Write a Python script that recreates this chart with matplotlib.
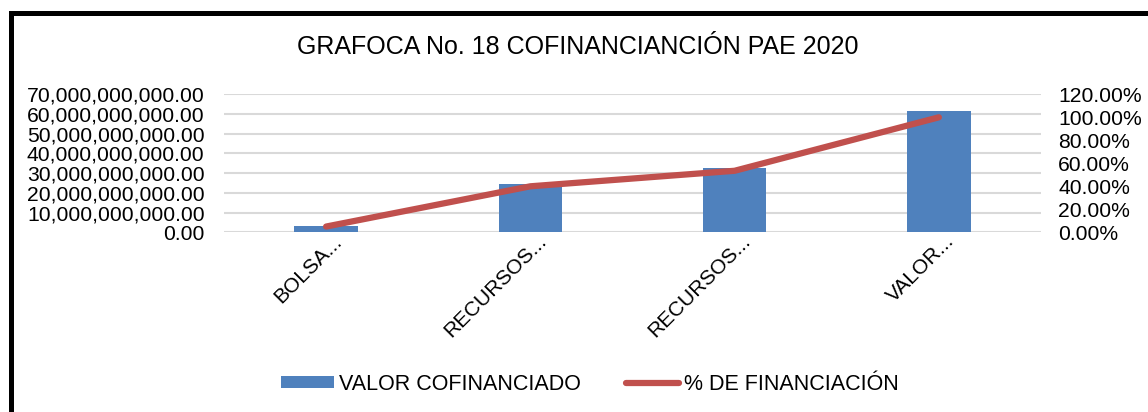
import matplotlib
matplotlib.use("Agg")
import matplotlib.pyplot as plt
from matplotlib.patches import Rectangle, Patch
from matplotlib.lines import Line2D
from matplotlib.ticker import FuncFormatter, MultipleLocator
from matplotlib.transforms import ScaledTranslation

plt.rcParams['font.family'] = ['Liberation Sans', 'DejaVu Sans']

categories = ["BOLSA...", "RECURSOS...", "RECURSOS...", "VALOR..."]
valor_cofinanciado = [3.0e9, 24.4e9, 32.7e9, 61.4e9]
pct_financiacion = [5.0, 40.0, 53.5, 100.0]

title = "GRAFOCA No. 18 COFINANCIANCIÓN PAE 2020"
bar_label = "VALOR COFINANCIADO"
line_label = "% DE FINANCIACIÓN"

bar_color = "#4F81BD"
line_color = "#C0504D"

W, H = 1148, 412
fig = plt.figure(figsize=(W / 100, H / 100), dpi=100)
ax = fig.add_axes([224/W, 1 - 232.3/H, (1041-224)/W, (232.3-94.3)/H])

x = list(range(len(categories)))
ax.bar(x, valor_cofinanciado, width=0.31, color=bar_color, zorder=3)
ax.set_xlim(-0.5, len(categories) - 0.5)
ax.set_ylim(0, 70e9)
ax.yaxis.set_major_locator(MultipleLocator(10e9))
ax.yaxis.set_major_formatter(FuncFormatter(lambda v, p: f"{v:,.2f}"))
ax.grid(axis='y', color='#D9D9D9', linewidth=1.5, zorder=0)
ax.set_axisbelow(True)
for s in ax.spines.values():
    s.set_visible(False)
ax.tick_params(axis='y', length=0, labelsize=15.2, pad=14)
ax.set_xticks(x)
ax.set_xticklabels(categories, rotation=45, ha='right', va='top',
                   rotation_mode='anchor', fontsize=15)
ax.tick_params(axis='x', length=0, pad=6)
off = ScaledTranslation(6/100, 9/100, fig.dpi_scale_trans)
for lab in ax.get_xticklabels():
    lab.set_transform(lab.get_transform() + off)

ax2 = ax.twinx()
ax2.plot(x, pct_financiacion, color=line_color, linewidth=4.5,
         solid_capstyle='round', zorder=4)
ax2.set_ylim(0, 120)
ax2.yaxis.set_major_locator(MultipleLocator(20))
ax2.yaxis.set_major_formatter(FuncFormatter(lambda v, p: f"{v:.2f}%"))
for s in ax2.spines.values():
    s.set_visible(False)
ax2.tick_params(axis='y', length=0, labelsize=15.2, pad=12.5)

fig.text(577.5 / W, 1 - 47/H, title, ha='center', va='center', fontsize=18)

handles = [Patch(facecolor=bar_color, label=bar_label),
           Line2D([0], [0], color=line_color, linewidth=4.5,
                  solid_capstyle='round', label=line_label)]
fig.legend(handles=handles, loc='center', bbox_to_anchor=(590 / W, 1 - 384/H),
           ncol=2, frameon=False, fontsize=15.5, handlelength=2.45,
           handleheight=0.5, columnspacing=2.1, handletextpad=0.25)

fig.patches.append(Rectangle((10.8/W, -0.05), 1.2, 1 - 13/H + 0.05,
                             transform=fig.transFigure, fill=False,
                             edgecolor='black', linewidth=3.6))

fig.savefig("out.png", dpi=100)
